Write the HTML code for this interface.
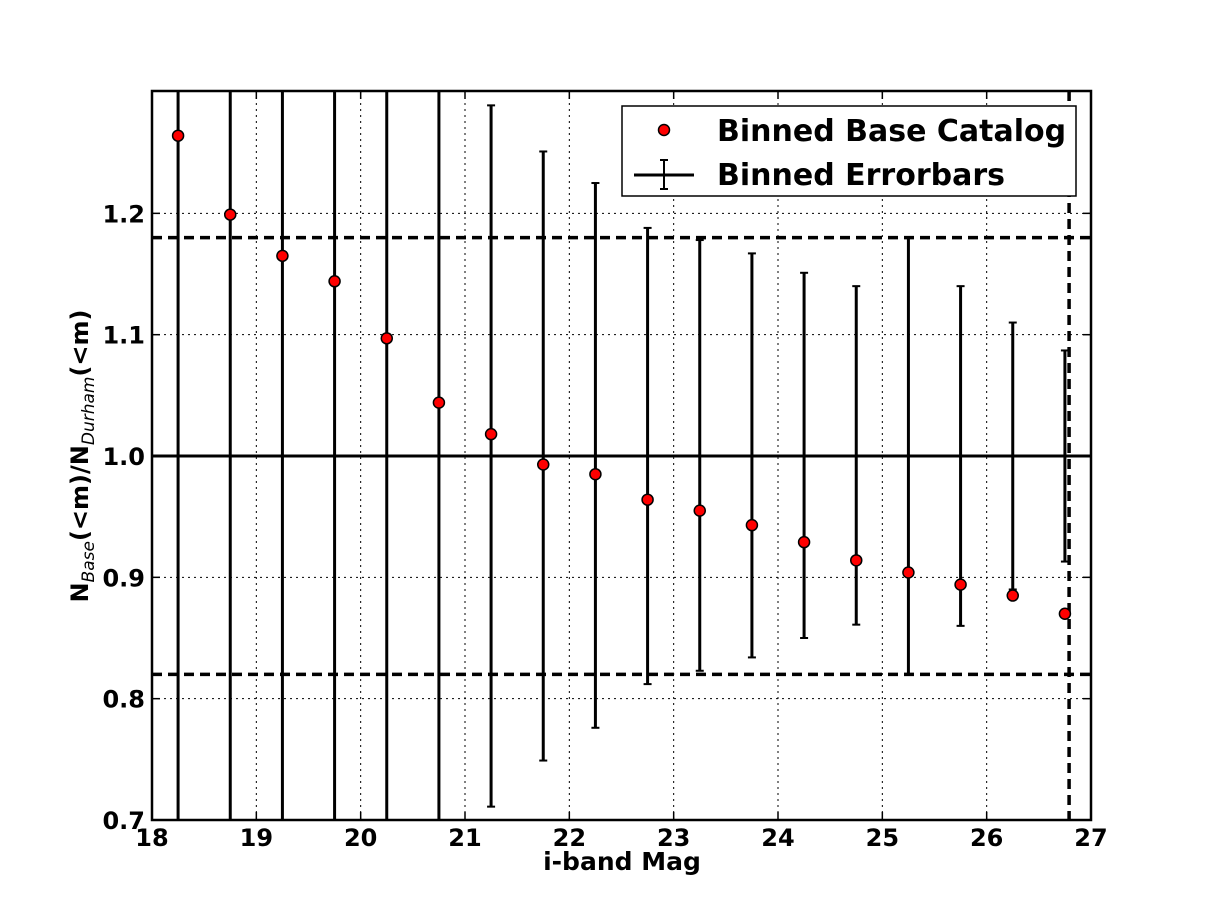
<!DOCTYPE html>
<html><head><meta charset="utf-8"><style>body{margin:0;background:#fff}svg{display:block}text{font-family:"DejaVu Sans","Liberation Sans",sans-serif;font-weight:bold}</style></head>
<body>
<svg id="chart" width="1212" height="912" xmlns="http://www.w3.org/2000/svg">
<rect width="1212" height="912" fill="#fff"/>
<g id="grid"></g>
<g id="refs"></g>
<g id="errs"></g>
<g id="pts"></g>
<rect x="152" y="91" width="939" height="729" fill="none" stroke="#000" stroke-width="2.5"/>
<g id="ticks"></g>
<text x="622" y="870" font-size="25" text-anchor="middle">i-band Mag</text>
<text transform="translate(88,456) rotate(-90)" font-size="24" text-anchor="middle">N<tspan font-size="17" dy="6" font-style="italic" font-weight="normal">Base</tspan><tspan dy="-6">(&lt;m)/N</tspan><tspan font-size="17" dy="6" font-style="italic" font-weight="normal">Durham</tspan><tspan dy="-6">(&lt;m)</tspan></text>
<g>
<rect x="622" y="106" width="454" height="90" fill="#fff" stroke="#000" stroke-width="1.5"/>
<circle cx="664" cy="130" r="5.5" fill="#f00" stroke="#000" stroke-width="1.5"/>
<text x="717" y="141" font-size="30">Binned Base Catalog</text>
<line x1="634" y1="175" x2="694" y2="175" stroke="#000" stroke-width="3"/>
<line x1="664" y1="160" x2="664" y2="189" stroke="#000" stroke-width="2"/>
<line x1="660" y1="160" x2="668" y2="160" stroke="#000" stroke-width="2"/>
<line x1="660" y1="189" x2="668" y2="189" stroke="#000" stroke-width="2"/>
<text x="717" y="185" font-size="30">Binned Errorbars</text>
</g>
</svg>
<script>
const mags=[18.25,18.75,19.25,19.75,20.25,20.75,21.25,21.75,22.25,22.75,23.25,23.75,24.25,24.75,25.25,25.75,26.25,26.75];
const ratio=[1.264,1.199,1.165,1.144,1.097,1.044,1.018,0.993,0.985,0.964,0.955,0.943,0.929,0.914,0.904,0.894,0.885,0.870];
const errLow=[0.3,0.3,0.3,0.3,0.3,0.3,0.711,0.749,0.776,0.812,0.823,0.834,0.850,0.861,0.820,0.860,0.890,0.913];
const errHigh=[1.6,1.6,1.6,1.6,1.6,1.6,1.289,1.251,1.225,1.188,1.178,1.167,1.151,1.140,1.180,1.140,1.110,1.087];
const xTicks=[18,19,20,21,22,23,24,25,26,27];
const yTicks=[0.7,0.8,0.9,1.0,1.1,1.2];
const refLevels=[1.18,0.82];
const limitMag=26.79;
const X=v=>152+(v-18)*939/9, Y=v=>820-(v-0.7)*1213.3;
const NS="http://www.w3.org/2000/svg";
function mk(p,t,a){const e=document.createElementNS(NS,t);for(const k in a)e.setAttribute(k,a[k]);p.appendChild(e);return e;}
const G=id=>document.getElementById(id);
const cl=v=>Math.max(91,Math.min(820,v));
xTicks.forEach(t=>{
 const l=mk(G('grid'),'line',{x1:X(t),x2:X(t),y1:91,y2:820,stroke:'#000','stroke-dasharray':'2,4','stroke-width':1});
 
 mk(G('ticks'),'line',{x1:X(t),x2:X(t),y1:820,y2:812,stroke:'#000','stroke-width':1.5});
 mk(G('ticks'),'line',{x1:X(t),x2:X(t),y1:91,y2:99,stroke:'#000','stroke-width':1.5});
 const tx=mk(G('ticks'),'text',{x:X(t),y:846,'font-size':24,'text-anchor':'middle'});tx.textContent=t;
 
});
yTicks.forEach(t=>{
 const l=mk(G('grid'),'line',{x1:152,x2:1091,y1:Y(t),y2:Y(t),stroke:'#000','stroke-dasharray':'2,4','stroke-width':1});
 
 mk(G('ticks'),'line',{x1:152,x2:160,y1:Y(t),y2:Y(t),stroke:'#000','stroke-width':1.5});
 mk(G('ticks'),'line',{x1:1083,x2:1091,y1:Y(t),y2:Y(t),stroke:'#000','stroke-width':1.5});
 const tx=mk(G('ticks'),'text',{x:145,y:Y(t)+9,'font-size':24,'text-anchor':'end'});tx.textContent=t.toFixed(1);
 
});
let u=mk(G('refs'),'line',{x1:152,x2:1091,y1:Y(1),y2:Y(1),stroke:'#000','stroke-width':3});

refLevels.forEach(v=>{const l=mk(G('refs'),'line',{x1:152,x2:1091,y1:Y(v),y2:Y(v),stroke:'#000','stroke-width':3.5,'stroke-dasharray':'10,6'});
 });
u=mk(G('refs'),'line',{x1:X(limitMag),x2:X(limitMag),y1:91,y2:820,stroke:'#000','stroke-width':3.5,'stroke-dasharray':'10,6'});

mags.forEach((m,i)=>{
 const x=X(m),y1=cl(Y(errHigh[i])),y2=cl(Y(errLow[i]));
 const g=mk(G('errs'),'g',{});
 
 mk(g,'line',{x1:x,x2:x,y1:y1,y2:y2,stroke:'#000','stroke-width':3});
 if(y1>91)mk(g,'line',{x1:x-4,x2:x+4,y1:y1,y2:y1,stroke:'#000','stroke-width':2});
 if(y2<820)mk(g,'line',{x1:x-4,x2:x+4,y1:y2,y2:y2,stroke:'#000','stroke-width':2});
 const c=mk(G('pts'),'circle',{cx:x,cy:Y(ratio[i]),r:5.5,fill:'#f00',stroke:'#000','stroke-width':1.5});
 
});
</script>
</body></html>
